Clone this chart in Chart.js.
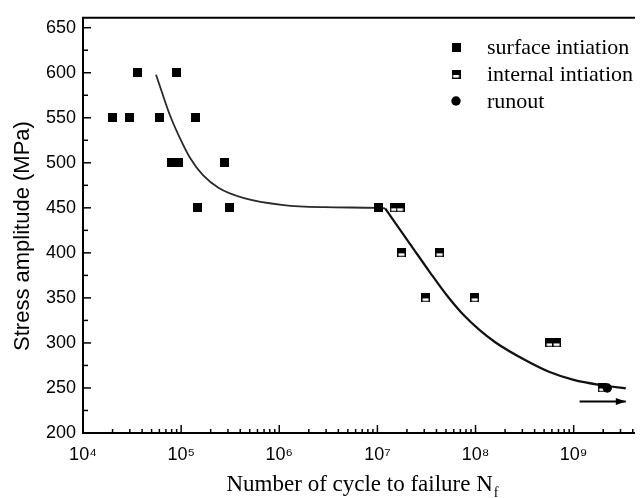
<!DOCTYPE html>
<html><head><meta charset="utf-8">
<style>html,body{margin:0;padding:0;background:#fff;}#wrap{width:641px;height:498px;}</style>
<script src="https://cdn.jsdelivr.net/npm/chart.js@4/dist/chart.umd.min.js"></script>
</head><body><div id="wrap"><canvas id="c" width="641" height="498"></canvas></div>
<script>
// ---- data ----
const seriesNames = ['surface intiation', 'internal intiation', 'runout'];
const surfaceN = [1.99e4, 2.98e4, 3.56e4, 5.97e4, 8.93e4, 1.39e5, 7.98e4, 9.4e4, 2.79e5, 1.48e5, 3.1e5, 1.03e7];
const surfaceS = [550, 550, 600, 550, 600, 550, 500, 500, 500, 450, 450, 450];
const internalN = [1.48e7, 1.7e7, 1.76e7, 4.3e7, 3.1e7, 9.8e7, 5.7e8, 6.7e8, 1.95e9];
const internalS = [450, 450, 400, 400, 350, 350, 300, 300, 250];
const runoutN = [2.2e9];
const runoutS = [250];
const fit1N = [5.55e4, 6.4e4, 7.73e4, 9.8e4, 1.245e5, 1.66e5, 2.42e5, 4.29e5, 1.11e6, 2.88e6, 9.9e6, 1.2e7];
const fit1S = [597.8, 577.7, 552.2, 526.6, 504.7, 486.5, 472, 461, 453, 450.7, 450, 449.5];
const fit2N = [1.2e7, 1.57e7, 2.31e7, 3.4e7, 5.0e7, 7.4e7, 1.08e8, 1.6e8, 3.2e8, 5.6e8, 1.0e9, 1.95e9, 3.4e9];
const fit2S = [449.5, 431, 405, 379, 354, 332, 315, 300.5, 281, 268, 259, 253, 249.5];
const arrowN = [1.15e9, 3.4e9];
const arrowS = [235, 235];
const xTickValues = [1e4, 1e5, 1e6, 1e7, 1e8, 1e9];
const xTickLabels = ['10\u2074', '10\u2075', '10\u2076', '10\u2077', '10\u2078', '10\u2079'];
const yTickValues = [200, 250, 300, 350, 400, 450, 500, 550, 600, 650];
const yTickLabels = ['200', '250', '300', '350', '400', '450', '500', '550', '600', '650'];
const xTitle = 'Number of cycle to failure N';
const xTitleSub = 'f';
const yTitle = 'Stress amplitude (MPa)';

const pts = (xs, ys) => xs.map((v, i) => ({x: v, y: ys[i]}));

// marker images
function sq(half) {
  const c = document.createElement('canvas');
  c.width = 9; c.height = 9;
  const g = c.getContext('2d');
  g.fillStyle = '#000'; g.fillRect(0, 0, 9, 9);
  if (half) { g.fillStyle = '#fff'; g.fillRect(1.5, 5, 6, 2.6); }
  return c;
}
const filledSq = sq(false), halfSq = sq(true);

const SANS = '"Liberation Sans", Arial, sans-serif';
const SERIF = '"Liberation Serif", "Times New Roman", serif';

const frame = {
  id: 'frame',
  beforeDatasetsDraw(chart) {
    const {ctx, chartArea: a, scales: {x, y}} = chart;
    ctx.save();
    ctx.strokeStyle = '#000';
    ctx.lineWidth = 1.5;
    for (let v = 200; v <= 650; v += 25) {
      const py = y.getPixelForValue(v);
      const len = v % 50 === 0 ? 8 : 5;
      ctx.beginPath(); ctx.moveTo(a.left, py); ctx.lineTo(a.left + len, py); ctx.stroke();
    }
    for (let d = 4; d <= 9; d++) {
      for (let k = 1; k <= 9; k++) {
        const v = k * Math.pow(10, d);
        if (v > x.max) break;
        const px = x.getPixelForValue(v);
        const len = k === 1 ? 8 : 4;
        ctx.beginPath(); ctx.moveTo(px, a.bottom); ctx.lineTo(px, a.bottom - len); ctx.stroke();
      }
    }
    ctx.lineWidth = 2;
    ctx.beginPath();
    ctx.moveTo(a.right, a.top); ctx.lineTo(a.left, a.top); ctx.lineTo(a.left, a.bottom); ctx.lineTo(a.right, a.bottom);
    ctx.stroke();
    ctx.restore();
  },
  afterDraw(chart) {
    const {ctx, chartArea: a} = chart;
    ctx.save();
    ctx.fillStyle = '#000';
    // arrow head
    const meta = chart.getDatasetMeta(5);
    const tip = meta.data[1];
    if (tip) {
      ctx.beginPath();
      ctx.moveTo(tip.x, tip.y);
      ctx.lineTo(tip.x - 10, tip.y - 3.5);
      ctx.lineTo(tip.x - 10, tip.y + 3.5);
      ctx.closePath(); ctx.fill();
    }
    // legend
    const rows = [47.5, 74.5, 101];
    const mx = 456, tx = 487;
    ctx.font = '22px ' + SERIF;
    ctx.textBaseline = 'alphabetic';
    ctx.textAlign = 'left';
    rows.forEach((ry, i) => {
      if (i === 0) ctx.drawImage(filledSq, mx - 4.5, ry - 4.5);
      else if (i === 1) ctx.drawImage(halfSq, mx - 4.5, ry - 4.5);
      else { ctx.beginPath(); ctx.arc(mx, ry, 4.7, 0, Math.PI * 2); ctx.fill(); }
      ctx.fillText(seriesNames[i], tx, ry + 6.5);
    });
    // x title
    ctx.font = '23px ' + SERIF;
    const w1 = ctx.measureText(xTitle).width;
    ctx.font = '14px ' + SERIF;
    const w2 = ctx.measureText(xTitleSub).width;
    const cx = (a.left + a.right) / 2 + 3;
    const sx = cx - (w1 + w2) / 2;
    ctx.font = '23px ' + SERIF;
    ctx.fillText(xTitle, sx, 491);
    ctx.font = '14px ' + SERIF;
    ctx.fillText(xTitleSub, sx + w1 + 1, 497);
    // y title
    ctx.translate(29, 236);
    ctx.rotate(-Math.PI / 2);
    ctx.font = '22px ' + SANS;
    ctx.textAlign = 'center';
    ctx.fillText(yTitle, 0, 0);
    ctx.restore();
  }
};

new Chart(document.getElementById('c'), {
  type: 'scatter',
  data: {
    datasets: [
      {label: seriesNames[0], data: pts(surfaceN, surfaceS), pointStyle: filledSq, pointRadius: 5, order: 2},
      {label: seriesNames[1], data: pts(internalN, internalS), pointStyle: halfSq, pointRadius: 5, order: 1},
      {label: seriesNames[2], data: pts(runoutN, runoutS), pointStyle: 'circle', pointRadius: 4.7,
        backgroundColor: '#000', borderColor: '#000', borderWidth: 0, order: 0},
      {label: 'fit1', data: pts(fit1N, fit1S), showLine: true, pointRadius: 0, borderColor: '#2a2a2a',
        borderWidth: 1.8, cubicInterpolationMode: 'monotone', order: 3},
      {label: 'fit2', data: pts(fit2N, fit2S), showLine: true, pointRadius: 0, borderColor: '#111',
        borderWidth: 2.2, cubicInterpolationMode: 'monotone', order: 3},
      {label: 'arrow', data: pts(arrowN, arrowS), showLine: true, pointRadius: 0, borderColor: '#000',
        borderWidth: 2, order: 3}
    ]
  },
  options: {
    responsive: false,
    devicePixelRatio: 1,
    animation: false,
    layout: {padding: {top: 14, right: 0, left: 0, bottom: 0}},
    plugins: {legend: {display: false}, tooltip: {enabled: false}},
    scales: {
      x: {
        type: 'logarithmic',
        min: 1e4,
        max: Math.pow(10, 9.625),
        grid: {display: false, drawTicks: false},
        border: {display: false},
        afterFit(s) { s.height = 65; },
        afterBuildTicks(s) { s.ticks = xTickValues.map(v => ({value: v})); },
        ticks: {
          autoSkip: false, maxRotation: 0, padding: 11, color: '#000',
          font: {family: SANS, size: 18},
          callback: (v, i) => xTickLabels[i]
        }
      },
      y: {
        type: 'linear',
        min: 200,
        max: 661,
        grid: {display: false, drawTicks: false},
        border: {display: false},
        afterFit(s) { s.width = 83; },
        afterBuildTicks(s) { s.ticks = yTickValues.map(v => ({value: v})); },
        ticks: {
          padding: 7, color: '#000',
          font: {family: SANS, size: 18},
          callback: (v, i) => yTickLabels[i]
        }
      }
    }
  },
  plugins: [frame]
});
</script>
</body></html>
